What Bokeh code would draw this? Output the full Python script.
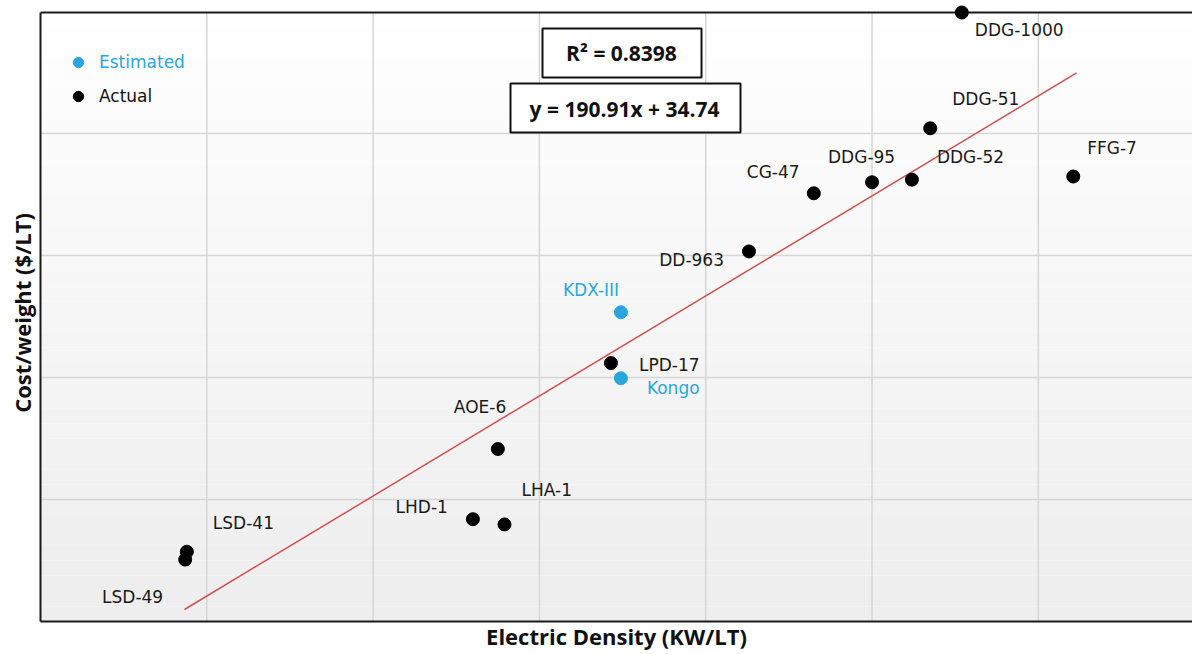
import numpy as np
from bokeh.plotting import figure
from bokeh.models import (Range1d, FixedTicker, Label, BoxAnnotation, Span,
                          Legend, LegendItem, ColumnDataSource)
from bokeh.core.properties import value
from bokeh.embed import file_html
from bokeh.resources import INLINE

# ---------------- data ----------------
actual_names = ["DDG-1000", "DDG-51", "FFG-7", "DDG-52", "DDG-95", "CG-47", "DD-963",
                "LPD-17", "AOE-6", "LHD-1", "LHA-1", "LSD-41", "LSD-49"]
actual_density = [0.554, 0.535, 0.621, 0.524, 0.500, 0.465, 0.426,
                  0.343, 0.275, 0.260, 0.279, 0.088, 0.087]
actual_cost = [165.2, 143.1, 133.9, 133.3, 132.8, 130.7, 119.6,
               98.3, 81.9, 68.5, 67.5, 62.3, 60.8]

est_names = ["KDX-III", "Kongo"]
est_density = [0.349, 0.349]
est_cost = [108.0, 95.4]

trend_slope = 190.91
trend_intercept = 34.74
trend_r2 = 0.8398
trend_x = [0.0866, 0.6230]

x_grid = [0.1, 0.2, 0.3, 0.4, 0.5, 0.6]
y_grid = [72.3, 95.5, 118.8, 142.1]
x_lo, x_hi = 0.0, 0.6927
y_lo, y_hi = 48.98, 165.2

# ---------------- style / layout ----------------
BLACK = "#000000"
CYAN = "#2aa6de"
FONT = "DejaVu Sans"
BOLD = "Open Sans"

FRAME_TOP_PAD = 8            # px of frame kept above the top border (so top dot is not clipped)
KPX = (y_hi - y_lo) / 609.0  # y units per pixel
y_top = y_hi + FRAME_TOP_PAD * KPX

# label offsets in pixels (dx, dy-down, align)
label_style = {
    "DDG-1000": (13, 17, "left"), "DDG-51": (22, -29, "left"), "FFG-7": (14, -29, "left"),
    "DDG-52": (25, -23, "left"), "DDG-95": (-44, -25, "left"), "CG-47": (-67, -21, "left"),
    "DD-963": (-25, 9, "right"), "LPD-17": (28, 2, "left"), "AOE-6": (-44, -42, "left"),
    "LHD-1": (-25, -12, "right"), "LHA-1": (17, -34, "left"), "LSD-41": (26, -29, "left"),
    "LSD-49": (-22, 37, "right"), "KDX-III": (-58, -22, "left"), "Kongo": (26, 10, "left"),
}

p = figure(width=1192, height=654, output_backend="svg", toolbar_location=None,
           x_range=Range1d(x_lo, x_hi), y_range=Range1d(y_lo, y_top),
           min_border_left=40, min_border_right=0, min_border_top=12 - FRAME_TOP_PAD,
           min_border_bottom=33)
p.outline_line_color = None
p.background_fill_color = "white"
p.border_fill_color = "white"

# gradient background (white at top to light gray at bottom)
nb = 40
edges = np.linspace(y_lo, y_hi, nb + 1)
shades = np.linspace(238, 255, nb)
cols = ["#%02x%02x%02x" % (int(s), int(s), int(s)) for s in shades]
p.quad(left=x_lo, right=x_hi, bottom=edges[:-1], top=edges[1:] + 0.01,
       fill_color=cols, line_color=None, level="image")

# axes
for ax in (p.xaxis[0], p.yaxis[0]):
    ax.ticker = FixedTicker(ticks=[])
    ax.axis_line_color = "#1a1a1a"
    ax.axis_line_width = 2
    ax.major_tick_line_color = None
    ax.minor_tick_line_color = None
    ax.major_label_text_font_size = "0px"
    ax.axis_label_text_font = BOLD
    ax.axis_label_text_font_style = "bold"
    ax.axis_label_text_font_size = "22px"
    ax.axis_label_text_color = "#111111"
p.xaxis.axis_label = "Electric Density (KW/LT)"
p.yaxis.axis_label = "Cost/weight ($/LT)"
p.xaxis.axis_label_standoff = -1
p.yaxis.axis_label_standoff = 4
p.yaxis.bounds = (y_lo, y_hi)

# top border
p.add_layout(Span(location=y_hi, dimension="width", line_color="#1a1a1a", line_width=2,
                  level="underlay"))

# grid
p.xgrid.visible = False
p.segment(x0=x_grid, y0=y_lo, x1=x_grid, y1=y_hi, line_color="#d6d6d6", line_width=1.5,
          level="underlay")
p.ygrid.ticker = FixedTicker(ticks=y_grid)
p.ygrid.grid_line_color = "#d6d6d6"
p.ygrid.grid_line_width = 1.5

# trend line
tx = np.array(trend_x)
p.line(tx, trend_slope * tx + trend_intercept, line_color="#d0504f", line_width=1.5)

# points
act = ColumnDataSource(dict(x=actual_density, y=actual_cost, name=actual_names))
est = ColumnDataSource(dict(x=est_density, y=est_cost, name=est_names))
r_est = p.scatter("x", "y", source=est, size=13, fill_color=CYAN, line_color=CYAN)
r_act = p.scatter("x", "y", source=act, size=13, fill_color=BLACK, line_color=BLACK)

# labels
def add_labels(names, xs, ys, color):
    for align in ("left", "right"):
        sel = [i for i, n in enumerate(names) if label_style[n][2] == align]
        if not sel:
            continue
        src = ColumnDataSource(dict(
            x=[xs[i] for i in sel], y=[ys[i] for i in sel], t=[names[i] for i in sel],
            dx=[label_style[names[i]][0] for i in sel], dy=[label_style[names[i]][1] for i in sel]))
        p.text("x", "y", text="t", source=src, x_offset="dx", y_offset="dy",
               text_align=align, text_baseline="middle", text_font=value(FONT),
               text_font_size="17px", text_color=color)

add_labels(actual_names, actual_density, actual_cost, "#1a1a1a")
add_labels(est_names, est_density, est_cost, CYAN)

# legends
def make_legend(label, renderer, color, loc):
    lg = Legend(items=[LegendItem(label=label, renderers=[renderer])], location=loc,
                padding=0, margin=0, spacing=0, glyph_width=26, glyph_height=26,
                label_standoff=8, label_text_font=FONT, label_text_font_size="17px",
                label_text_color=color, background_fill_alpha=0, border_line_color=None)
    p.add_layout(lg)

make_legend("Estimated", r_est, CYAN, (25, 546))
make_legend("Actual", r_act, "#111111", (25, 512))

# equation boxes
def px2x(px):
    return x_lo + (px - 40) / 1152 * (x_hi - x_lo)

def px2y(py):
    return y_lo + (621 - py) * KPX

p.add_layout(BoxAnnotation(left=px2x(542), right=px2x(701), top=px2y(28), bottom=px2y(77),
                           fill_color="white", fill_alpha=1, line_color="#111111", line_width=2,
                           line_alpha=1, level="annotation"))
p.add_layout(BoxAnnotation(left=px2x(510), right=px2x(740), top=px2y(83), bottom=px2y(132),
                           fill_color="white", fill_alpha=1, line_color="#111111", line_width=2,
                           line_alpha=1, level="annotation"))
p.add_layout(Label(x=px2x(621), y=px2y(52), text="R\u00b2 = %.4f" % trend_r2,
                   text_align="center", text_baseline="middle", text_font=BOLD,
                   text_font_style="bold", text_font_size="21px", text_color="#111111"))
p.add_layout(Label(x=px2x(624), y=px2y(108),
                   text="y = %.2fx + %.2f" % (trend_slope, trend_intercept),
                   text_align="center", text_baseline="middle", text_font=BOLD,
                   text_font_style="bold", text_font_size="21px", text_color="#111111"))

open("out.html", "w").write(file_html(p, INLINE))
